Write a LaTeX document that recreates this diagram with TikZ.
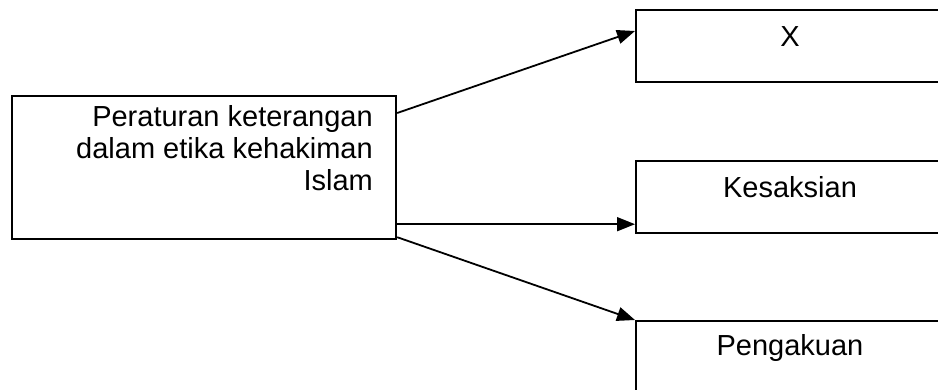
\documentclass[tikz,border=0pt]{standalone}
\usepackage{fontspec}
\setmainfont{Liberation Sans}
\usetikzlibrary{arrows.meta,calc}
\begin{document}
\begin{tikzpicture}[x=1pt,y=-1pt,
  boxnode/.style={draw=black,line width=2.2pt,rectangle,inner sep=0pt,anchor=north west},
  txt/.style={font=\fontsize{29}{32}\selectfont,inner sep=0pt},
  arr/.style={line width=1.8pt,-{Triangle[length=18pt,width=14pt]}}]
\clip (0,0) rectangle (938,390);
\node[boxnode,minimum width=384pt,minimum height=143pt] (L) at (11,95) {};
\node[boxnode,minimum width=310pt,minimum height=72pt] (A) at (635,9) {};
\node[boxnode,minimum width=310pt,minimum height=72pt] (B) at (635,160) {};
\node[boxnode,minimum width=310pt,minimum height=72pt] (C) at (635,320) {};
\node[txt,anchor=north east,align=right] (Lt) at (373,105) {Peraturan keterangan\\dalam etika kehakiman\\Islam};
\node[txt] (At) at (790,37) {X};
\node[txt] (Bt) at (790,187) {Kesaksian};
\node[txt] (Ct) at (790,348) {Pengakuan};
\draw[arr] ($(L.north east)+(0,18)$) -- ($(A.north west)+(0,22)$);
\draw[arr] ($(L.south east)+(0,-16)$) -- ($(B.south west)+(0,-10)$);
\draw[arr] ($(L.south east)+(0,-3)$) -- (C.north west);
\end{tikzpicture}
\end{document}
